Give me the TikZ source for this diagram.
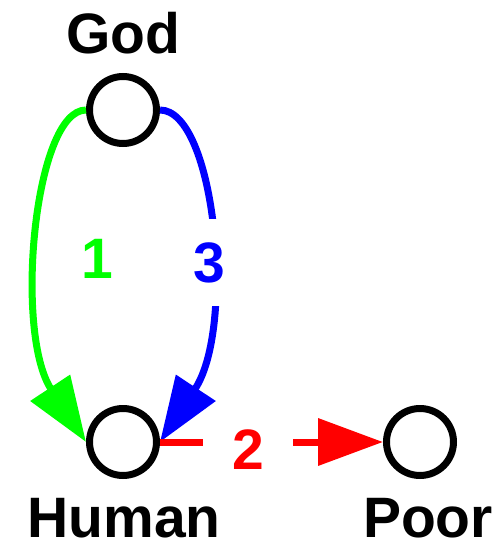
\documentclass[tikz,border=0pt]{standalone}
\usepackage{fontspec}
\setmainfont{Liberation Sans}
\usetikzlibrary{arrows.meta}
\begin{document}
\begin{tikzpicture}[x=1pt,y=-1pt,
  vertex/.style={circle,draw=black,line width=7pt,minimum size=67pt,inner sep=0pt,outer sep=3.5pt},
  vtitle/.style={font=\fontsize{57}{60}\selectfont\bfseries,anchor=base,inner sep=0pt},
  edgelab/.style={font=\fontsize{57}{60}\selectfont\bfseries,inner sep=0pt},
  conn/.style={line width=7pt,-{Triangle[length=65pt,width=46pt]}}]
\useasboundingbox (0,0) rectangle (503,541);
\node[vertex] (god) at (123,110) {};
\node[vertex] (human) at (123,442) {};
\node[vertex] (poor) at (420,442) {};
\node[vtitle] (godlab) at (123.5,53) {God};
\node[vtitle] (humanlab) at (124,537) {Human};
\node[vtitle] (poorlab) at (428,537) {Poor};
\draw[conn,green] (god.west) .. controls +(-52,0) and +(-72,-109) .. (human.west)
  node[pos=0.57,xshift=58pt,yshift=6pt,edgelab] (l1) {1};
\draw[conn,blue] (god.east) .. controls +(55,0) and +(76,-115) .. (human.east)
  node[pos=0.57,edgelab,fill=white,inner ysep=23pt,inner xsep=4pt] (l3) {3};
\draw[conn,red] (human.east) -- (poor.west)
  node[pos=0.395,edgelab,fill=white,inner xsep=29pt,inner ysep=2pt,yshift=-8pt] (l2) {2};
\end{tikzpicture}
\end{document}
